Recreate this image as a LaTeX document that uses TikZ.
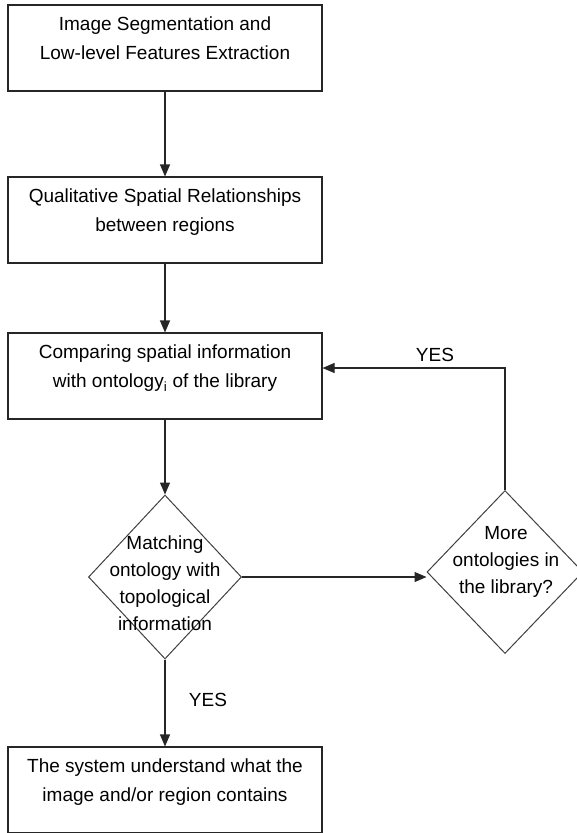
\documentclass[tikz,border=0pt]{standalone}
\usepackage{fontspec}
\setmainfont{Liberation Sans}
\usetikzlibrary{shapes.geometric,arrows.meta}
\begin{document}
\begin{tikzpicture}[x=1pt,y=-1pt,
  box/.style={draw=black!85, line width=1.1pt, minimum width=314pt, minimum height=86pt, inner sep=0pt},
  dia/.style={draw=black!75, line width=1pt, diamond, inner sep=0pt},
  txt/.style={font=\fontsize{19}{28.5}\selectfont, align=center, inner sep=0pt, anchor=north, execute at begin node=\strut},
  dtxt/.style={font=\fontsize{19}{27}\selectfont, align=center, inner sep=0pt, anchor=north, execute at begin node=\strut},
  arr/.style={draw=black!85, line width=1.1pt, -{Triangle[length=12pt,width=10pt]}},
  lbl/.style={font=\fontsize{19}{23}\selectfont, inner sep=0pt}]
\useasboundingbox (0,0) rectangle (577,833);
\clip (0,0) rectangle (577,833);
\fill[white] (0,0) rectangle (577,833);
% boxes
\node[box] (b1) at (165,48) {};
\node[box] (b2) at (165,220) {};
\node[box] (b3) at (165,376) {};
\node[box] (b4) at (165,790) {};
% diamonds
\node[dia, minimum width=153pt, minimum height=164pt] (d1) at (165,577) {};
\node[dia, minimum width=156pt, minimum height=163pt] (d2) at (505,572) {};
% texts
\node[txt] (t1) at (165,17) {Image Segmentation and\\Low-level Features Extraction};
\node[txt] (t2) at (165,189) {Qualitative Spatial Relationships\\between regions};
\node[txt] (t3) at (165,345) {Comparing spatial information\\with ontology\textsubscript{i} of the library};
\node[txt] (t4) at (165,759) {The system understand what the\\image and/or region contains};
\node[dtxt] (t5) at (165,536) {Matching\\ontology with\\topological\\information};
\node[dtxt] (t6) at (506,526) {More\\ontologies in\\the library?};
% connectors
\draw[arr] (b1.south) -- (b2.north);
\draw[arr] (b2.south) -- (b3.north);
\draw[arr] (b3.south) -- (d1.north);
\draw[arr] (d1.south) -- (b4.north);
\draw[arr] (d1.east) -- (d1.east -| d2.west);
\draw[arr] (d2.north) |- ([yshift=8pt]b3.east);
% labels
\node[lbl] (y1) at (208,700) {YES};
\node[lbl] (y2) at (435,355) {YES};
\end{tikzpicture}
\end{document}
